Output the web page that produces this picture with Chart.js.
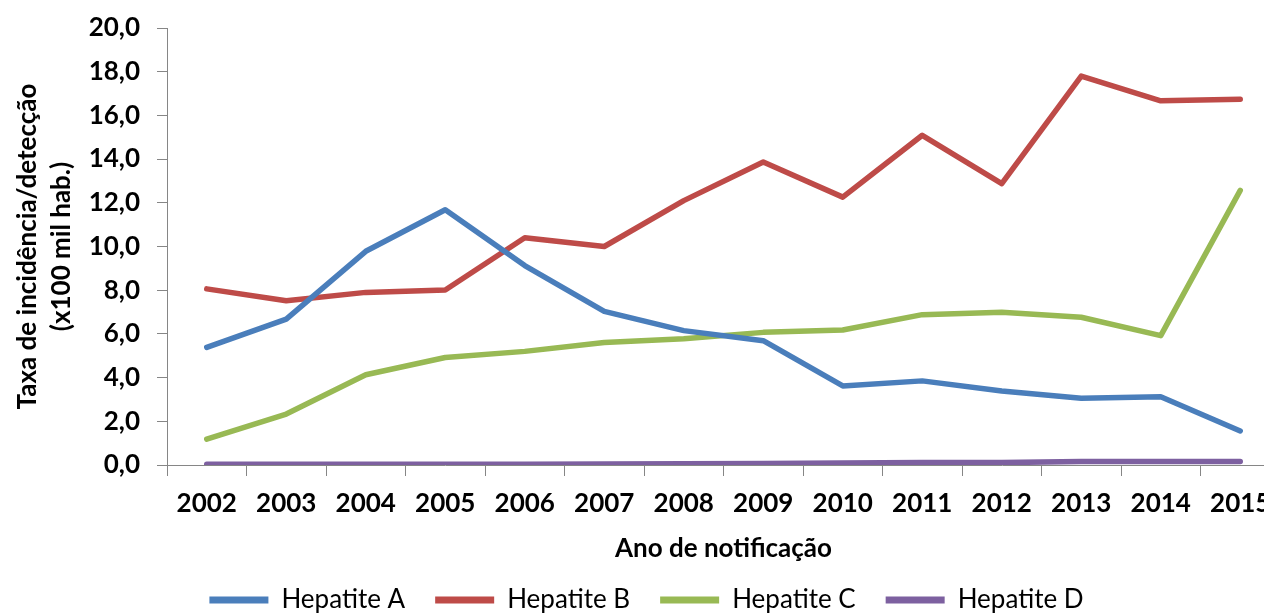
<!DOCTYPE html>
<html>
<head>
<meta charset="utf-8">
<script src="https://cdn.jsdelivr.net/npm/chart.js@4"></script>
<style>
  html, body { margin: 0; padding: 0; background: #fff; overflow: hidden; }
  #wrap { position: absolute; left: 0; top: 0; width: 1300px; height: 613px; }
</style>
</head>
<body>
<div id="wrap"><canvas id="c" width="1300" height="613"></canvas></div>
<script>
const years = ['2002','2003','2004','2005','2006','2007','2008','2009','2010','2011','2012','2013','2014','2015'];
const hepA = [5.38, 6.68, 9.78, 11.68, 9.13, 7.03, 6.15, 5.69, 3.62, 3.85, 3.39, 3.06, 3.12, 1.56];
const hepB = [8.06, 7.52, 7.90, 8.01, 10.40, 10.00, 12.10, 13.87, 12.26, 15.09, 12.88, 17.80, 16.67, 16.74];
const hepC = [1.18, 2.33, 4.13, 4.92, 5.20, 5.61, 5.78, 6.07, 6.18, 6.88, 6.99, 6.76, 5.92, 12.57];
const hepD = [0.03, 0.04, 0.04, 0.04, 0.04, 0.05, 0.06, 0.07, 0.09, 0.12, 0.11, 0.16, 0.16, 0.16];
const seriesNames = ['Hepatite A', 'Hepatite B', 'Hepatite C', 'Hepatite D'];
const yTickLabels = ['0,0','2,0','4,0','6,0','8,0','10,0','12,0','14,0','16,0','18,0','20,0'];
const yTitle = ['Taxa de incidência/detecção', '(x100 mil hab.)'];
const xTitle = 'Ano de notificação';

const colors = ['#4A7EBB', '#BE4B48', '#98B954', '#7D60A0'];
const values = [hepA, hepB, hepC, hepD];

const datasets = seriesNames.map((name, i) => ({
  label: name,
  data: values[i],
  borderColor: colors[i],
  backgroundColor: colors[i],
  borderWidth: 5.5,
  pointRadius: 0,
  pointHoverRadius: 0,
  tension: 0,
  fill: false,
  borderJoinStyle: 'round',
  borderCapStyle: 'round'
}));

const axisColor = '#868686';
const FONT = 'Lato, "Open Sans", sans-serif';

new Chart(document.getElementById('c'), {
  type: 'line',
  data: { labels: years, datasets },
  options: {
    responsive: false,
    animation: false,
    devicePixelRatio: 1,
    layout: { padding: { left: 13, right: 20, top: 28, bottom: -10 } },
    plugins: {
      tooltip: { enabled: false },
      legend: {
        position: 'bottom',
        align: 'center',
        labels: {
          color: '#000',
          font: { family: FONT, size: 26, weight: 'normal' },
          boxWidth: 59,
          boxHeight: 7,
          padding: 30,
          generateLabels: (chart) => Chart.defaults.plugins.legend.labels.generateLabels(chart)
            .map(l => Object.assign(l, { lineWidth: 0, fillStyle: l.strokeStyle }))
        }
      }
    },
    scales: {
      x: {
        type: 'category',
        offset: true,
        grid: {
          offset: true,
          drawOnChartArea: false,
          drawTicks: true,
          tickLength: 11,
          color: axisColor,
          lineWidth: 1
        },
        border: { display: true, color: axisColor, width: 1 },
        ticks: {
          color: '#000',
          font: { family: FONT, size: 26, weight: 'bold' },
          padding: 12,
          maxRotation: 0,
          autoSkip: false
        },
        title: {
          display: true,
          text: xTitle,
          color: '#000',
          font: { family: FONT, size: 26, weight: 'bold', lineHeight: 1.2 },
          padding: { top: 0, bottom: -7 }
        },
        afterFit: (s) => { s.height = 92; s.paddingLeft = 0; s.paddingRight = 0; }
      },
      y: {
        min: 0,
        max: 20,
        ticks: {
          stepSize: 2,
          color: '#000',
          font: { family: FONT, size: 26, weight: 'bold' },
          padding: 17,
          callback: (v, i) => yTickLabels[i]
        },
        grid: {
          drawOnChartArea: false,
          drawTicks: true,
          tickLength: 10,
          color: axisColor,
          lineWidth: 1
        },
        border: { display: true, color: axisColor, width: 1 },
        title: {
          display: true,
          text: yTitle,
          color: '#000',
          font: { family: FONT, size: 26, weight: 'bold', lineHeight: 1.3 },
          padding: { top: -2, bottom: 0 }
        },
        afterFit: (s) => { s.width = 154; s.paddingTop = 0; s.paddingBottom = 0; }
      }
    }
  }
});
</script>
</body>
</html>
